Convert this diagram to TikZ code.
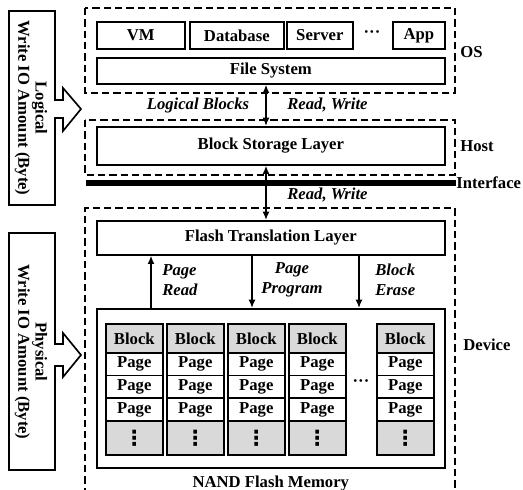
\documentclass[tikz,border=0pt]{standalone}
\usepackage{fontspec}
\setmainfont{Liberation Serif}
\newfontfamily\symbolfont{DejaVu Sans}
\usetikzlibrary{arrows.meta}
\def\logicalarrow{(9,11) -- (55,11) -- (55,100) -- (63,100) -- (63,88) -- (81,109) -- (63,131) -- (63,118) -- (55,118) -- (55,205) -- (9,205) -- cycle}
\def\physicalarrow{(9,233) -- (55,233) -- (55,344) -- (63,344) -- (63,333) -- (81,355) -- (63,377) -- (63,366) -- (55,366) -- (55,470) -- (9,470) -- cycle}
\def\celldots{{\fontsize{12.5}{14}\symbolfont\bfseries ⋮}}
\def\rowdots{\textperiodcentered\textperiodcentered\textperiodcentered}
\tikzset{
	layer/.style 2 args={draw, line width=1pt, fill=white, inner sep=0pt, anchor=north west, minimum width=#1*0.6pt, minimum height=#2*0.6pt},
	cell/.style={draw, line width=1pt, inner sep=0pt, anchor=north west, minimum width=57*0.6pt, minimum height=#1*0.6pt},
	region/.style={dash pattern=on 4.4pt off 2.4pt, line width=0.9pt},
	lbl/.style={font=\fontsize{10}{12}\selectfont\bfseries\itshape, inner sep=0pt},
	arr/.style={-{Latex[length=5pt,width=4.2pt]}, line width=0.9pt},
	rw/.style={{Latex[length=5pt,width=4.2pt]}-{Latex[length=5pt,width=4.2pt]}, line width=0.9pt},
}
\begin{document}
\begin{tikzpicture}[x=0.6pt, y=-0.6pt, font=\fontsize{10}{12}\selectfont\bfseries]
		\useasboundingbox (0,0) rectangle (523,490);
		% OS
		\draw[region] (85,8) rectangle (455,93);
		\node[layer={88}{27}] (vm) at (96,21) {VM};
		\node[layer={94}{27}] (db) at (189,21) {Database};
		\node[layer={66}{27}] (srv) at (286,21) {Server};
		\node (appdots) at (372,34) {\rowdots};
		\node[layer={52}{27}] (app) at (392,21) {App};
		\node[layer={348}{26}] (fs) at (96,57) {File System};
		\node[anchor=west, inner sep=0pt] (os) at (460,52) {OS};
		% Host
		\draw[region] (85,120) rectangle (455,175);
		\node[layer={348}{38}] (bsl) at (96,126) {Block Storage Layer};
		\node[anchor=west, inner sep=0pt] (host) at (460,146) {Host};
		\node[lbl] (lblocks) at (198,105) {Logical Blocks};
		\node[lbl, anchor=west] (rw1) at (287,105) {Read, Write};
		\coordinate (rwx) at (266,0);
		\draw[rw] (fs.south -| rwx) -- (bsl.north -| rwx);
		% Interface
		\coordinate (ifl) at (86,183);
		\coordinate (ifr) at (456,183);
		\draw[line width=3.6pt] (ifl) -- (ifr);
		\node[anchor=west, inner sep=0pt] (iface) at (ifr) {Interface};
		\node[lbl, anchor=west] (rw2) at (287,195) {Read, Write};
		% Device
		\draw[region] (85,495) -- (85,208) -- (455,208) -- (455,495);
		\node[layer={348}{34}] (ftl) at (96,220) {Flash Translation Layer};
		\draw[rw] (bsl.south -| rwx) -- (ftl.north -| rwx);
		\node[layer={348}{159}] (nand) at (96,308) {};
		\node[below=1pt] (nandlbl) at (nand.south) {NAND Flash Memory};
		\node[anchor=west, inner sep=0pt] (dev) at (463,345) {Device};
		\coordinate (prx) at (151,0);
		\coordinate (ppx) at (252,0);
		\coordinate (bex) at (359,0);
		\draw[arr] (nand.north -| prx) -- (ftl.south -| prx);
		\draw[arr] (ftl.south -| ppx) -- (nand.north -| ppx);
		\draw[arr] (ftl.south -| bex) -- (nand.north -| bex);
		\node[lbl, anchor=west, align=left] (pread) at (162,280) {Page\\Read};
		\node[lbl, align=center] (pprog) at (292,280) {Page\\Program};
		\node[lbl, anchor=west, align=left] (berase) at (375,280) {Block\\Erase};
		\foreach \cx [count=\i] in {105,166,227,288,376} {
			\node[cell=29, fill=black!15] (blk\i) at (\cx,323) {Block};
			\foreach \j in {0,1,2}
				\node[cell=22.67] (pg\i-\j) at (\cx,352+\j*22.67) {Page};
			\node[cell=34, fill=black!15] (more\i) at (\cx,420) {\celldots};
		}
		\node (blkdots) at (361,383) {\rowdots};
		% write amount arrows
		\draw[line width=1pt] \logicalarrow;
		\draw[line width=1pt] \physicalarrow;
		\node[rotate=-90, align=center, font=\fontsize{10}{10.4}\selectfont\bfseries] (logw) at (31,108) {Logical\\Write IO Amount (Byte)};
		\node[rotate=-90, align=center, font=\fontsize{10}{10.4}\selectfont\bfseries] (phyw) at (31,352) {Physical\\Write IO Amount (Byte)};
\end{tikzpicture}
\end{document}
